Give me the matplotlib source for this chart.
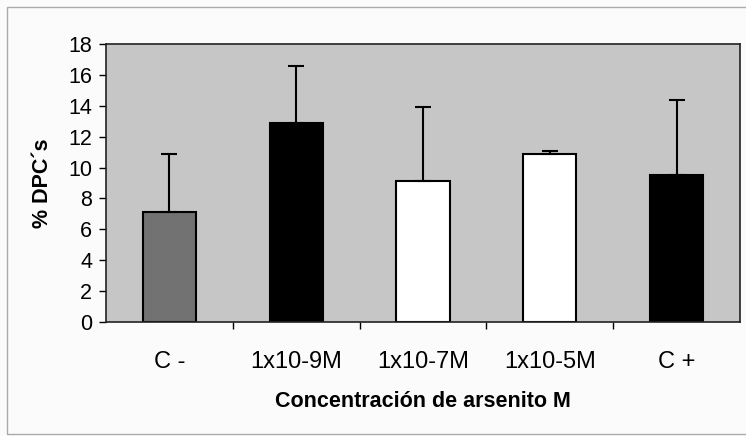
import numpy as np
import matplotlib.pyplot as plt
from matplotlib.patches import Rectangle

categories = ['C -', '1x10-9M', '1x10-7M', '1x10-5M', 'C +']
dpc_mean = [7.1, 12.9, 9.1, 10.9, 9.5]
dpc_err = [3.8, 3.7, 4.8, 0.15, 4.9]
bar_colors = ['#727272', '#000000', '#ffffff', '#ffffff', '#000000']

plt.rcParams['font.family'] = ['Liberation Sans', 'DejaVu Sans']

fig = plt.figure(figsize=(7.46, 4.36), dpi=100)
fig.patch.set_facecolor('#fbfbfb')
ax = fig.add_axes([106 / 746, 1 - 322 / 436, (740 - 106) / 746, (322 - 44) / 436])
ax.set_facecolor('#c6c6c6')

x = np.arange(len(categories))
ax.bar(x, dpc_mean, width=0.42, color=bar_colors, edgecolor='black', linewidth=1.5, zorder=2)
ax.errorbar(x, dpc_mean, yerr=[np.zeros(len(x)), dpc_err], fmt='none',
            ecolor='black', elinewidth=1.5, capsize=6, capthick=1.5, zorder=3)

ax.set_xlim(-0.5, len(categories) - 0.5)
ax.set_ylim(0, 18)
ax.set_yticks(range(0, 19, 2))
ax.set_xticks(x)
ax.set_xticklabels(categories)
ax.set_xticks(np.arange(0.5, len(categories) - 1, 1), minor=True)
ax.tick_params(axis='x', which='major', length=0, labelsize=17, pad=21)
ax.tick_params(axis='x', which='minor', length=5, width=1, direction='out')
ax.tick_params(axis='y', length=5, width=1, direction='out', labelsize=15.5, pad=5)

ax.set_xlabel('Concentración de arsenito M', fontsize=15.5, fontweight='bold', labelpad=13)
ax.set_ylabel('% DPC´s', fontsize=15.5, fontweight='bold', labelpad=11)

for side in ['left', 'bottom', 'top', 'right']:
    ax.spines[side].set_linewidth(1.2)
    ax.spines[side].set_color('#222222')

# outer chart frame
fig.patches.append(Rectangle((7 / 746, 2 / 436), 745 / 746, 427 / 436,
                             transform=fig.transFigure, fill=False,
                             edgecolor='#aaaaaa', linewidth=1))

fig.savefig('out.png', dpi=100, facecolor=fig.get_facecolor())
